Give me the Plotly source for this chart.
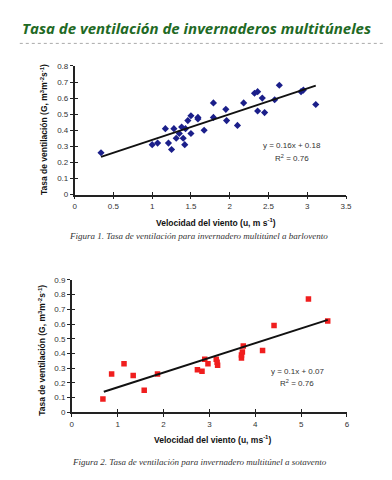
import plotly.graph_objects as go

# ---- Data: Figura 1 (barlovento) ----
u1 = [0.34, 1.00, 1.07, 1.17, 1.21, 1.25, 1.28, 1.31, 1.35, 1.38, 1.40, 1.42, 1.43, 1.46,
      1.50, 1.50, 1.59, 1.59, 1.67, 1.79, 1.79, 1.95, 1.96, 2.10, 2.18, 2.32, 2.36, 2.36,
      2.42, 2.45, 2.58, 2.64, 2.92, 2.95, 3.11]
g1 = [0.26, 0.31, 0.32, 0.41, 0.32, 0.28, 0.41, 0.35, 0.38, 0.42, 0.35, 0.31, 0.41, 0.46,
      0.49, 0.38, 0.48, 0.47, 0.40, 0.57, 0.48, 0.53, 0.46, 0.43, 0.57, 0.63, 0.64, 0.52,
      0.60, 0.51, 0.59, 0.68, 0.64, 0.65, 0.56]
fit1_slope, fit1_intercept = 0.16, 0.18
fit1_x = [0.34, 3.11]

# ---- Data: Figura 2 (sotavento) ----
u2 = [0.68, 0.87, 1.14, 1.34, 1.58, 1.87, 2.74, 2.84, 2.90, 2.97, 3.15, 3.17, 3.18,
      3.70, 3.70, 3.72, 3.74, 4.16, 4.41, 5.16, 5.58]
g2 = [0.09, 0.26, 0.33, 0.25, 0.15, 0.26, 0.29, 0.28, 0.36, 0.33, 0.36, 0.34, 0.32,
      0.37, 0.39, 0.41, 0.45, 0.42, 0.59, 0.77, 0.62]
fit2_slope, fit2_intercept = 0.1, 0.07
fit2_x = [0.70, 5.58]

W, H = 392, 480
def py(p):
    return 1 - p / H
def px(p):
    return p / W

fig = go.Figure()
fig.add_trace(go.Scatter(x=u1, y=g1, mode="markers", xaxis="x", yaxis="y",
                         marker=dict(symbol="diamond", size=5.5, color="#1b1f8a"), showlegend=False))
fig.add_trace(go.Scatter(x=fit1_x, y=[fit1_slope * v + fit1_intercept for v in fit1_x], mode="lines",
                         xaxis="x", yaxis="y", line=dict(color="#111", width=2), showlegend=False))
fig.add_trace(go.Scatter(x=u2, y=g2, mode="markers", xaxis="x2", yaxis="y2",
                         marker=dict(symbol="square", size=5.5, color="#f01e1e"), showlegend=False))
fig.add_trace(go.Scatter(x=fit2_x, y=[fit2_slope * v + fit2_intercept for v in fit2_x], mode="lines",
                         xaxis="x2", yaxis="y2", line=dict(color="#111", width=2), showlegend=False))
# empty traces so the inside-tick overlay axes get drawn
fig.add_trace(go.Scatter(x=[None], y=[None], xaxis="x3", yaxis="y3", showlegend=False, hoverinfo="skip"))
fig.add_trace(go.Scatter(x=[None], y=[None], xaxis="x4", yaxis="y4", showlegend=False, hoverinfo="skip"))

tickfont = dict(family="Liberation Sans, Arial", size=8, color="#333")
axcommon = dict(showgrid=False, zeroline=False, showline=True, linecolor="#222", linewidth=1.5,
                ticks="outside", ticklen=3, tickcolor="#222", tickwidth=1.2, tickfont=tickfont)
axinside = dict(showgrid=False, zeroline=False, showline=False, showticklabels=False,
                ticks="inside", ticklen=3, tickcolor="#222", tickwidth=1.2)

d1x, d1y = [px(66), px(343)], [py(186), py(55)]
d2x, d2y = [px(63), px(344)], [py(408), py(273)]

fig.update_layout(
    width=W, height=H, margin=dict(l=0, r=0, t=0, b=0),
    paper_bgcolor="white", plot_bgcolor="rgba(0,0,0,0)",
    xaxis=dict(domain=d1x, range=[0, 3.5], dtick=0.5, anchor="y", **axcommon),
    yaxis=dict(domain=d1y, range=[0, 0.8], dtick=0.1, anchor="x", **axcommon),
    xaxis2=dict(domain=d2x, range=[0, 6], dtick=1, anchor="y2", **axcommon),
    yaxis2=dict(domain=d2y, range=[0, 0.9], dtick=0.1, anchor="x2", **axcommon),
    xaxis3=dict(domain=d1x, range=[0, 3.5], dtick=0.5, anchor="y3", **axinside),
    yaxis3=dict(domain=d1y, range=[0, 0.8], dtick=0.1, anchor="x3", **axinside),
    xaxis4=dict(domain=d2x, range=[0, 6], dtick=1, anchor="y4", **axinside),
    yaxis4=dict(domain=d2y, range=[0, 0.9], dtick=0.1, anchor="x4", **axinside),
)

bold = dict(family="Liberation Sans, Arial", size=8.5, color="#111")
cap = dict(family="Liberation Serif, Times New Roman", size=9, color="#333")
eq = dict(family="Liberation Sans, Arial", size=8, color="#333")

ann = [
    dict(x=px(10), y=py(16), xanchor="left", yanchor="middle",
         text="<b><i>Tasa de ventilación de invernaderos multitúneles</i></b>",
         font=dict(family="Open Sans", size=15, color="#1f6a25")),
    # Figure 1
    dict(x=px(35), y=py(120), textangle=-90, xanchor="center", yanchor="middle",
         text="<b>Tasa de ventilación (G, m<sup>3</sup>m<sup>-2</sup>s<sup>-1</sup>)</b>", font=bold),
    dict(x=px(210), y=py(215), xanchor="center", yanchor="middle",
         text="<b>Velocidad del viento (u, m s<sup>-1</sup>)</b>", font=bold),
    dict(x=px(192), y=py(228), xanchor="center", yanchor="middle",
         text="<i>Figura 1. Tasa de ventilación para invernadero multitúnel a barlovento</i>", font=cap),
    dict(x=px(288), y=py(136), xanchor="center", yanchor="middle",
         text=f"y = {fit1_slope}x + {fit1_intercept}", font=eq),
    dict(x=px(288), y=py(149), xanchor="center", yanchor="middle",
         text="R<sup>2</sup> = 0.76", font=eq),
    # Figure 2
    dict(x=px(33), y=py(345), textangle=-90, xanchor="center", yanchor="middle",
         text="<b>Tasa de ventilación (G, m<sup>3</sup>m<sup>-2</sup>s<sup>-1</sup>)</b>", font=bold),
    dict(x=px(207), y=py(436), xanchor="center", yanchor="middle",
         text="<b>Velocidad del viento (u, ms<sup>-1</sup>)</b>", font=bold),
    dict(x=px(193), y=py(459), xanchor="center", yanchor="middle",
         text="<i>Figura 2. Tasa de ventilación para invernadero multitúnel a sotavento</i>", font=cap),
    dict(x=px(293), y=py(366), xanchor="center", yanchor="middle",
         text=f"y = {fit2_slope}x + {fit2_intercept}", font=eq),
    dict(x=px(293), y=py(378), xanchor="center", yanchor="middle",
         text="R<sup>2</sup> = 0.76", font=eq),
]
fig.update_layout(annotations=[dict(xref="paper", yref="paper", showarrow=False, **a) for a in ann])

fig.add_shape(type="line", xref="paper", yref="paper", x0=px(10), x1=1, y0=py(32), y1=py(32),
              line=dict(color="#aaa", width=1, dash="dot"))

fig.write_html("out.html")
